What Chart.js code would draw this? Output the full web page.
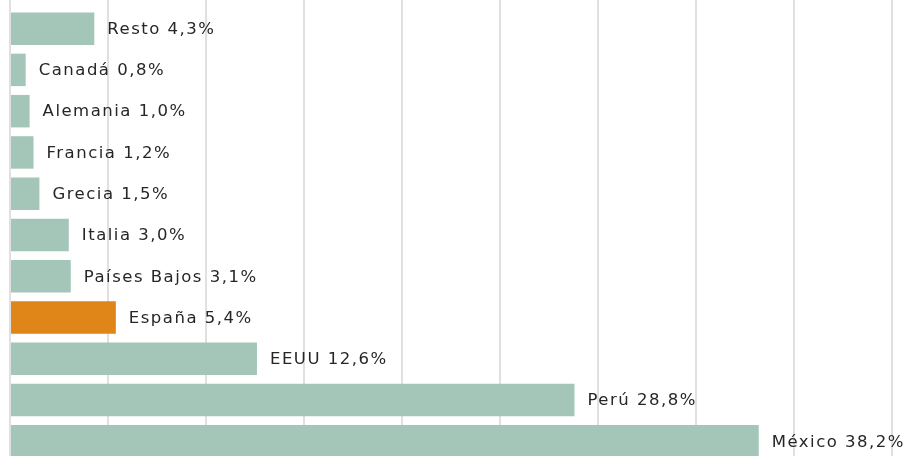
<!DOCTYPE html>
<html>
<head>
<meta charset="utf-8">
<script src="https://cdn.jsdelivr.net/npm/chart.js@4"></script>
<style>
  html, body { margin: 0; padding: 0; overflow: hidden; background: #fff; }
  #wrap { width: 913px; height: 462px; position: relative; }
</style>
</head>
<body>
<div id="wrap"><canvas id="chart"></canvas></div>
<script>
// data (top to bottom)
const categories = ['Resto', 'Canadá', 'Alemania', 'Francia', 'Grecia', 'Italia', 'Países Bajos', 'España', 'EEUU', 'Perú', 'México'];
const shares = [4.3, 0.8, 1.0, 1.2, 1.5, 3.0, 3.1, 5.4, 12.6, 28.8, 38.2];
const highlight = 'España';

const GREEN = '#a3c6b8';
const ORANGE = '#e08517';
const LABEL_FONT = '16.5px "DejaVu Sans"';

// labels at the end of each bar: "Perú 28,8%"
const endLabels = {
    id: 'endLabels',
    afterDatasetsDraw(chart) {
        const ctx = chart.ctx;
        const meta = chart.getDatasetMeta(0);
        ctx.save();
        ctx.font = LABEL_FONT;
        ctx.letterSpacing = '1.5px';
        ctx.fillStyle = '#262626';
        ctx.textAlign = 'left';
        ctx.textBaseline = 'middle';
        meta.data.forEach((bar, i) => {
            const txt = categories[i] + ' ' + shares[i].toFixed(1).replace('.', ',') + '%';
            ctx.fillText(txt, bar.x + 13, bar.y + 1);
        });
        ctx.restore();
    }
};

new Chart(document.getElementById('chart'), {
    type: 'bar',
    data: {
        labels: categories,
        datasets: [{
            data: shares,
            backgroundColor: categories.map(c => c === highlight ? ORANGE : GREEN),
            borderWidth: 0,
            barPercentage: 0.787,
            categoryPercentage: 1
        }]
    },
    options: {
        indexAxis: 'y',
        responsive: true,
        maintainAspectRatio: false,
        animation: false,
        layout: { padding: { left: 10, right: 21, top: 0, bottom: 0 } },
        plugins: {
            legend: { display: false },
            tooltip: { enabled: false }
        },
        scales: {
            x: {
                position: 'top',
                min: 0,
                max: 45,
                ticks: { display: false, stepSize: 5 },
                grid: { color: '#e0e0e0', lineWidth: 2, tickLength: 8, drawTicks: true },
                border: { display: false }
            },
            y: {
                display: false
            }
        }
    },
    plugins: [endLabels]
});
</script>
</body>
</html>
